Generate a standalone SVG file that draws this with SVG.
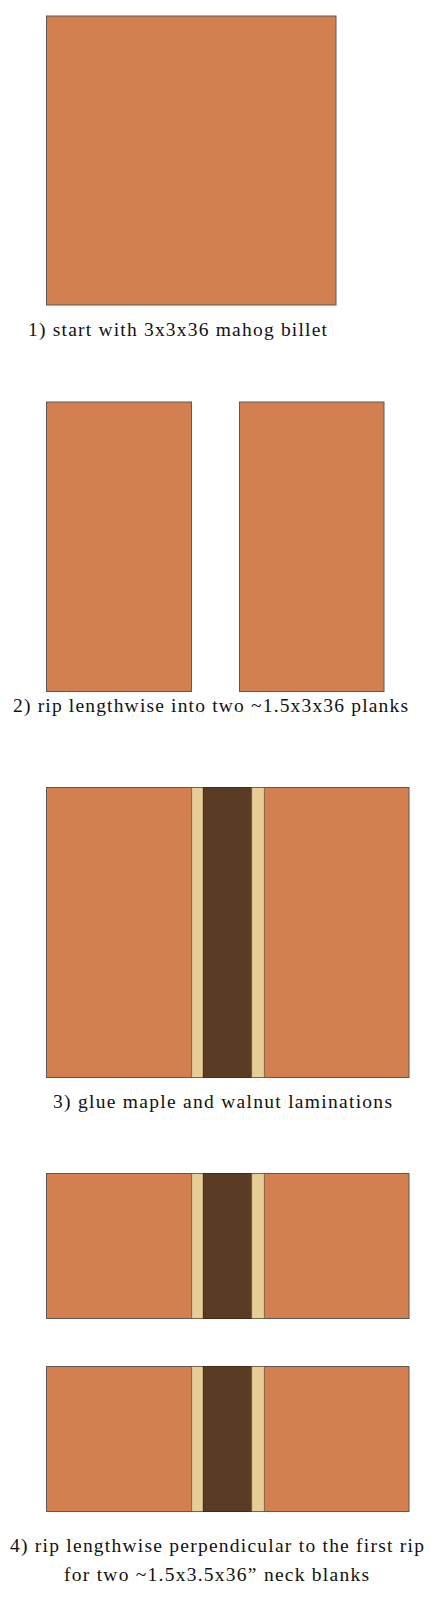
<svg xmlns="http://www.w3.org/2000/svg" width="447" height="1600" viewBox="0 0 447 1600">
<style>
.mah{fill:#D47F4F;stroke:#5a5a5a;stroke-width:1}
.map{fill:#E8CD97;stroke:#6b5a40;stroke-width:0.8}
.wal{fill:#5A3B24;stroke:#3a2616;stroke-width:0.8}
.lbl{font-family:"Liberation Serif","Times New Roman",serif;font-size:19.5px;fill:#111}
</style>
<rect width="447" height="1600" fill="#fff"/>
<g id="billet">
<rect class="mah" x="46.5" y="16" width="289.5" height="289"/>
</g>
<text class="lbl" x="28" y="336" textLength="299" lengthAdjust="spacing">1) start with 3x3x36 mahog billet</text>
<g id="plank-left">
<rect class="mah" x="46.5" y="402" width="145" height="289.5"/>
</g>
<g id="plank-right">
<rect class="mah" x="239.5" y="402" width="144.5" height="289.5"/>
</g>
<text class="lbl" x="13" y="712" textLength="395" lengthAdjust="spacing">2) rip lengthwise into two ~1.5x3x36 planks</text>
<g id="laminated">
<rect class="mah" x="46.5" y="787.5" width="362.5" height="290"/>
<rect class="map" x="191.7" y="787.5" width="11.6" height="290"/>
<rect class="wal" x="203.3" y="787.5" width="48.4" height="290"/>
<rect class="map" x="251.7" y="787.5" width="12.6" height="290"/>
</g>
<text class="lbl" x="53" y="1108" textLength="339" lengthAdjust="spacing">3) glue maple and walnut laminations</text>
<g id="blank-1">
<rect class="mah" x="46.5" y="1173.5" width="362.5" height="145"/>
<rect class="map" x="191.7" y="1173.5" width="11.6" height="145"/>
<rect class="wal" x="203.3" y="1173.5" width="48.4" height="145"/>
<rect class="map" x="251.7" y="1173.5" width="12.6" height="145"/>
</g>
<g id="blank-2">
<rect class="mah" x="46.5" y="1366.5" width="362.5" height="145"/>
<rect class="map" x="191.7" y="1366.5" width="11.6" height="145"/>
<rect class="wal" x="203.3" y="1366.5" width="48.4" height="145"/>
<rect class="map" x="251.7" y="1366.5" width="12.6" height="145"/>
</g>
<text class="lbl" x="10" y="1551.5" textLength="414" lengthAdjust="spacing">4) rip lengthwise perpendicular to the first rip</text>
<text class="lbl" x="64" y="1580.5" textLength="305" lengthAdjust="spacing">for two ~1.5x3.5x36” neck blanks</text>
</svg>
